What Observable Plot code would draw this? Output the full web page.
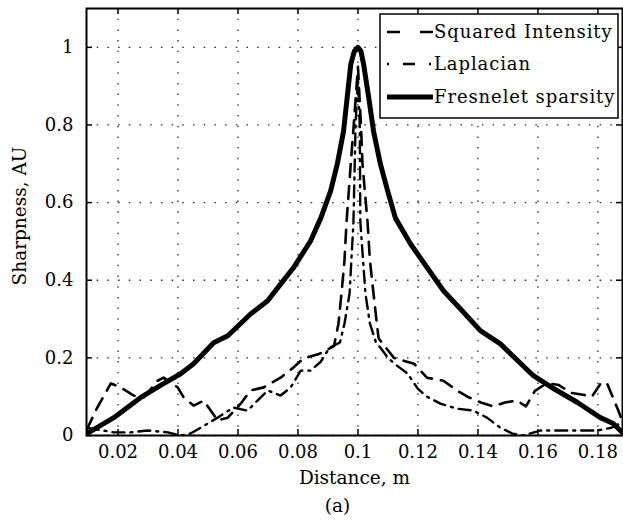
<!DOCTYPE html>
<html>
<head>
<meta charset="utf-8">
<script src="https://cdn.jsdelivr.net/npm/d3@7"></script>
<script src="https://cdn.jsdelivr.net/npm/@observablehq/plot@0.6"></script>
<style>
  html, body { margin: 0; padding: 0; background: white; }
</style>
</head>
<body>
<div id="chart"></div>
<script>
// ---- data ----
const xTicks = [0.02, 0.04, 0.06, 0.08, 0.1, 0.12, 0.14, 0.16, 0.18];
const xTickLabels = ["0.02", "0.04", "0.06", "0.08", "0.1", "0.12", "0.14", "0.16", "0.18"];
const yTicks = [0, 0.2, 0.4, 0.6, 0.8, 1];
const yTickLabels = ["0", "0.2", "0.4", "0.6", "0.8", "1"];

const seriesNames = ["Squared Intensity", "Laplacian", "Fresnelet sparsity"];

const sqX = [0.0096, 0.0131, 0.0176, 0.0209, 0.0252, 0.0286, 0.0332, 0.0352, 0.0399, 0.0419, 0.0452, 0.0486, 0.0532, 0.0566, 0.0609, 0.0642, 0.0686, 0.0742, 0.0785, 0.0817, 0.0870, 0.0920, 0.0935, 0.0945, 0.0955, 0.0962, 0.0976, 0.0986, 0.1000, 0.1010, 0.1015, 0.1032, 0.1040, 0.1052, 0.1063, 0.1069, 0.1120, 0.1187, 0.1230, 0.1285, 0.1330, 0.1365, 0.1410, 0.1450, 0.1490, 0.1530, 0.1560, 0.1590, 0.1630, 0.1670, 0.1710, 0.1750, 0.1780, 0.1810, 0.1830, 0.1865, 0.1885];
const sqY = [0.015, 0.072, 0.134, 0.124, 0.103, 0.098, 0.141, 0.149, 0.124, 0.098, 0.077, 0.090, 0.039, 0.046, 0.082, 0.116, 0.124, 0.149, 0.175, 0.198, 0.210, 0.230, 0.288, 0.365, 0.450, 0.550, 0.700, 0.800, 0.950, 0.800, 0.700, 0.550, 0.450, 0.365, 0.288, 0.250, 0.200, 0.185, 0.149, 0.141, 0.116, 0.100, 0.085, 0.075, 0.085, 0.090, 0.075, 0.115, 0.135, 0.130, 0.110, 0.105, 0.100, 0.135, 0.135, 0.070, 0.030];

const lapX = [0.0096, 0.0186, 0.0242, 0.0299, 0.0366, 0.0409, 0.0442, 0.0476, 0.0532, 0.0585, 0.0632, 0.0665, 0.0699, 0.0742, 0.0776, 0.0809, 0.0842, 0.0876, 0.0905, 0.0940, 0.0955, 0.0972, 0.0985, 0.0992, 0.1000, 0.1006, 0.1008, 0.1025, 0.1040, 0.1060, 0.1075, 0.1100, 0.1130, 0.1165, 0.1200, 0.1230, 0.1275, 0.1330, 0.1385, 0.1430, 0.1475, 0.1515, 0.1550, 0.1610, 0.1680, 0.1750, 0.1800, 0.1845, 0.1885];
const lapY = [0.020, 0.008, 0.008, 0.013, 0.008, 0.000, 0.005, 0.020, 0.046, 0.072, 0.064, 0.090, 0.116, 0.103, 0.124, 0.167, 0.167, 0.190, 0.226, 0.240, 0.288, 0.365, 0.550, 0.800, 0.920, 0.800, 0.550, 0.365, 0.288, 0.240, 0.226, 0.200, 0.180, 0.160, 0.120, 0.100, 0.082, 0.069, 0.064, 0.046, 0.020, 0.005, 0.000, 0.013, 0.013, 0.013, 0.013, 0.020, 0.035];

const fresX = [0.0096, 0.0186, 0.0276, 0.0353, 0.0409, 0.0452, 0.0519, 0.0566, 0.0642, 0.0699, 0.0742, 0.0785, 0.0842, 0.0876, 0.0909, 0.0931, 0.0952, 0.0964, 0.0976, 0.0988, 0.1000, 0.1010, 0.1019, 0.1036, 0.1052, 0.1075, 0.1099, 0.1125, 0.1175, 0.1231, 0.1285, 0.1342, 0.1408, 0.1475, 0.1532, 0.1585, 0.1652, 0.1732, 0.1808, 0.1851, 0.1885];
const fresY = [0.005, 0.046, 0.098, 0.134, 0.159, 0.185, 0.239, 0.257, 0.313, 0.347, 0.390, 0.432, 0.501, 0.560, 0.630, 0.699, 0.784, 0.870, 0.956, 0.990, 1.000, 0.990, 0.956, 0.870, 0.784, 0.699, 0.630, 0.560, 0.494, 0.432, 0.373, 0.326, 0.270, 0.236, 0.193, 0.154, 0.121, 0.085, 0.046, 0.031, 0.005];

// ---- tables for the library ----
const zip = (xs, ys) => xs.map((x, i) => ({x, y: ys[i]}));
const sq = zip(sqX, sqY);
const lap = zip(lapX, lapY);
const fres = zip(fresX, fresY);

const W = 623, H = 520;
const mL = 86, mR = 1, mT = 8, mB = 85;
const innerW = W - mL - mR, innerH = H - mT - mB;
const tickLen = 6;
const FONT = "DejaVu Serif";

const dashSq = "13,9";
const dashLap = "12,6,2,6";

const chart = Plot.plot({
  width: W, height: H,
  marginLeft: mL, marginRight: mR, marginTop: mT, marginBottom: mB,
  style: {fontFamily: FONT, fontSize: "18px", color: "black", background: "white", overflow: "visible"},
  x: {domain: [0.0095, 0.1882]},
  y: {domain: [0, 1.1]},
  marks: [
    Plot.gridX(xTicks, {stroke: "black", strokeOpacity: 0.85, strokeWidth: 1.3, strokeDasharray: "1.5,9.2"}),
    Plot.gridY(yTicks, {stroke: "black", strokeOpacity: 0.85, strokeWidth: 1.3, strokeDasharray: "1.5,9.2"}),
    Plot.line(sq, {x: "x", y: "y", stroke: "black", strokeWidth: 2.6, strokeDasharray: dashSq, clip: true}),
    Plot.line(lap, {x: "x", y: "y", stroke: "black", strokeWidth: 2.4, strokeDasharray: dashLap, clip: true}),
    Plot.line(fres, {x: "x", y: "y", stroke: "black", strokeWidth: 5, strokeLinejoin: "round", clip: true}),
    Plot.tickX(xTicks, {x: d => d, insetTop: innerH - tickLen, stroke: "black", strokeWidth: 1.5}),
    Plot.tickX(xTicks, {x: d => d, insetBottom: innerH - tickLen, stroke: "black", strokeWidth: 1.5}),
    Plot.tickY(yTicks, {y: d => d, insetRight: innerW - tickLen, stroke: "black", strokeWidth: 1.5}),
    Plot.tickY(yTicks, {y: d => d, insetLeft: innerW - tickLen, stroke: "black", strokeWidth: 1.5}),
    Plot.frame({stroke: "black", strokeWidth: 2}),
    Plot.axisX(xTicks, {tickSize: 0, tickPadding: 10, fontSize: 18, tickFormat: d => xTickLabels[xTicks.indexOf(d)], label: null}),
    Plot.axisY(yTicks, {tickSize: 0, tickPadding: 13, fontSize: 18, tickFormat: d => yTickLabels[yTicks.indexOf(d)], label: null}),
    Plot.text(["Distance, m"], {frameAnchor: "bottom", lineAnchor: "middle", dy: 43, fontSize: 18.5}),
    Plot.text(["(a)"], {frameAnchor: "bottom", lineAnchor: "middle", dy: 71, dx: -17, fontSize: 18.5}),
    Plot.text(["Sharpness, AU"], {frameAnchor: "left", rotate: -90, textAnchor: "middle", lineAnchor: "middle", dx: -66, dy: -6, fontSize: 18.5})
  ]
});

// ---- legend (inside the plot, top right) ----
const svg = d3.select(chart);
svg.selectAll("text").attr("fill", "black");
const lg = svg.append("g").attr("font-family", FONT).attr("font-size", 18).attr("text-anchor", "start");
lg.append("rect").attr("x", 380).attr("y", 14).attr("width", 238).attr("height", 104)
  .attr("fill", "white").attr("stroke", "black").attr("stroke-width", 1.5);
const rowsY = [32, 64, 97];
const sampleDash = ["13,20", "2,14,12,14,2", null];
const sampleW = [2.6, 2.4, 5];
seriesNames.forEach((name, i) => {
  const l = lg.append("line").attr("x1", 387).attr("x2", 433).attr("y1", rowsY[i]).attr("y2", rowsY[i])
    .attr("stroke", "black").attr("stroke-width", sampleW[i]);
  if (sampleDash[i]) l.attr("stroke-dasharray", sampleDash[i]);
  lg.append("text").attr("x", 434).attr("y", rowsY[i]).attr("dy", "0.35em")
    .attr("text-anchor", "start").attr("letter-spacing", "0.9px").attr("fill", "black").text(name);
});

document.getElementById("chart").appendChild(chart);
</script>
</body>
</html>
